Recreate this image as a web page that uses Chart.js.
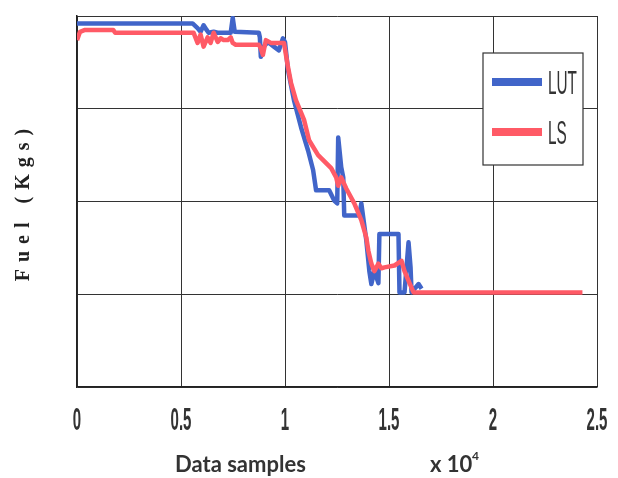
<!DOCTYPE html>
<html>
<head>
<meta charset="utf-8">
<script src="https://cdn.jsdelivr.net/npm/chart.js@4.4.1/dist/chart.umd.min.js"></script>
<style>
  html, body { margin: 0; padding: 0; background: #fff; }
  canvas { display: block; }
</style>
</head>
<body>
<canvas id="fuelChart" width="618" height="478"></canvas>
<script>
// x in data samples, y in Kgs (axis is unlabelled in the figure)
const xTicks = [0, 5000, 10000, 15000, 20000, 25000];
const seriesNames = ["LUT", "LS"];
const seriesColors = ["#4165c9", "#ff5a66"];

const lutX = [0, 5555, 5796, 5941, 6086, 6231, 6327, 6569, 6762, 7390, 7487, 7583, 8742, 8791, 8839, 8984, 9177, 9467, 9708, 9902,
  10000, 10143, 10433, 10771, 11109, 11351, 11495, 12123, 12365, 12510, 12558, 12703, 12800, 12848, 13572, 13669, 13910, 14055, 14152, 14297,
  14490, 14538, 15456, 15504, 15746, 15939, 16036, 16084, 16422, 16567];
const lutY = [39.2, 39.2, 38.7, 38.3, 39.0, 38.5, 38.2, 38.3, 38.2, 38.2, 39.8, 38.3, 38.2, 37.7, 35.6, 36.7, 37.2, 36.7, 36.3, 37.6,
  37.2, 34.2, 30.9, 28.0, 25.5, 23.4, 21.2, 21.2, 20.1, 19.8, 26.9, 23.7, 22.6, 18.5, 18.5, 19.8, 15.8, 12.5, 11.1, 12.5,
  11.2, 16.5, 16.5, 10.2, 10.2, 15.6, 12.9, 10.2, 11.1, 10.6];

const lsX = [0, 145, 386, 1739, 1835, 5603, 5796, 5941, 6086, 6279, 6424, 6569, 6762, 6907, 7052, 7245, 7390, 7487, 7631, 8742,
  8839, 8936, 9080, 9322, 9950, 10143, 10288, 10529, 10916, 11157, 11592, 12220, 12461, 12558, 12703, 12944, 13331, 13669, 13910, 14007,
  14152, 14297, 14490, 14635, 14780, 15263, 15601, 15746, 15987, 16181, 24300];
const lsY = [37.4, 38.3, 38.5, 38.5, 38.2, 38.2, 37.1, 38.0, 36.7, 37.7, 37.1, 38.2, 37.2, 37.6, 37.4, 37.4, 37.7, 37.1, 36.9, 36.9,
  36.5, 35.8, 37.4, 37.1, 37.1, 34.5, 32.8, 30.9, 28.8, 26.6, 25.0, 23.6, 22.6, 21.7, 22.6, 21.4, 19.8, 18.0, 16.1, 14.7,
  13.3, 12.5, 13.3, 12.8, 12.9, 13.1, 13.6, 12.5, 11.2, 10.2, 10.2];

const toPoints = (xs, ys) => xs.map((x, i) => ({ x, y: ys[i] }));

// condensed text: the original figure is squeezed horizontally
function narrowText(ctx, text, x, y, font, squeeze, align) {
  ctx.save();
  ctx.font = font;
  const w = ctx.measureText(text).width * squeeze;
  const left = align === "center" ? x - w / 2 : x;
  ctx.translate(left, y);
  ctx.scale(squeeze, 1);
  ctx.textAlign = "left";
  ctx.fillText(text, 0, 0);
  ctx.restore();
}

const annotations = {
  id: "annotations",
  afterDraw(chart) {
    const ctx = chart.ctx;
    const xScale = chart.scales.x;

    // tick labels placed by the x scale
    ctx.save();
    ctx.fillStyle = "#333";
    ctx.textBaseline = "alphabetic";
    xTicks.forEach(v => {
      narrowText(ctx, String(v / 10000), xScale.getPixelForValue(v), 430, "bold 32px 'Liberation Sans', Arial, sans-serif", 0.47, "center");
    });
    ctx.restore();

    // y title, letter-spaced serif, rotated
    ctx.save();
    ctx.translate(24, 205);
    ctx.rotate(-Math.PI / 2);
    ctx.font = "bold 20px 'Liberation Serif', serif";
    ctx.fillStyle = "#222";
    ctx.textBaseline = "middle";
    const title = "Fuel (Kgs)";
    const gap = 7;
    const widths = [...title].map(c => ctx.measureText(c).width);
    const total = widths.reduce((a, b) => a + b, 0) + gap * (title.length - 1);
    let pos = -total / 2;
    [...title].forEach((c, i) => {
      ctx.fillText(c, pos, 0);
      pos += widths[i] + gap;
    });
    ctx.restore();

    // x title pieces
    ctx.save();
    ctx.fillStyle = "#333";
    ctx.textBaseline = "alphabetic";
    ctx.font = "bold 22px Lato, 'Open Sans', sans-serif";
    ctx.fillText("Data samples", 175, 472);
    ctx.fillText("x 10", 430, 472);
    ctx.font = "bold 12px Lato, 'Open Sans', sans-serif";
    ctx.fillText("4", 472, 460);
    ctx.restore();

    // legend box
    ctx.save();
    const bx = 483, by = 53, bw = 100, bh = 112;
    ctx.fillStyle = "#fff";
    ctx.fillRect(bx, by, bw, bh);
    ctx.strokeStyle = "#333";
    ctx.lineWidth = 1.2;
    ctx.strokeRect(bx, by, bw, bh);
    chart.data.datasets.forEach((ds, i) => {
      const y = i === 0 ? 82 : 132;
      ctx.strokeStyle = ds.borderColor;
      ctx.lineWidth = 8;
      ctx.beginPath();
      ctx.moveTo(492, y);
      ctx.lineTo(542, y);
      ctx.stroke();
      ctx.fillStyle = "#333";
      narrowText(ctx, ds.label, 548, y + 12, "34px 'Liberation Sans', Arial, sans-serif", 0.45, "left");
    });
    ctx.restore();
  }
};

new Chart(document.getElementById("fuelChart"), {
  type: "scatter",
  data: {
    datasets: [
      { label: seriesNames[0], data: toPoints(lutX, lutY), borderColor: seriesColors[0], order: 2 },
      { label: seriesNames[1], data: toPoints(lsX, lsY), borderColor: seriesColors[1], order: 1 }
    ].map(ds => ({ ...ds, showLine: true, borderWidth: 4.5, pointRadius: 0, tension: 0, borderJoinStyle: "round", backgroundColor: ds.borderColor }))
  },
  options: {
    responsive: false,
    animation: false,
    layout: { padding: { left: 77, top: 16, right: 21, bottom: 91 } },
    plugins: { legend: { display: false }, tooltip: { enabled: false } },
    scales: {
      x: {
        type: "linear",
        min: 0,
        max: 25000,
        afterBuildTicks: axis => { axis.ticks = xTicks.map(value => ({ value })); },
        ticks: { display: false },
        grid: { color: "#333", lineWidth: 1, drawTicks: false },
        border: { color: "#222", width: 1.5 }
      },
      y: {
        min: 0,
        max: 40,
        ticks: { display: false, stepSize: 10 },
        grid: { color: "#333", lineWidth: 1, drawTicks: false },
        border: { color: "#222", width: 1.5 }
      }
    }
  },
  plugins: [annotations]
});
</script>
</body>
</html>
